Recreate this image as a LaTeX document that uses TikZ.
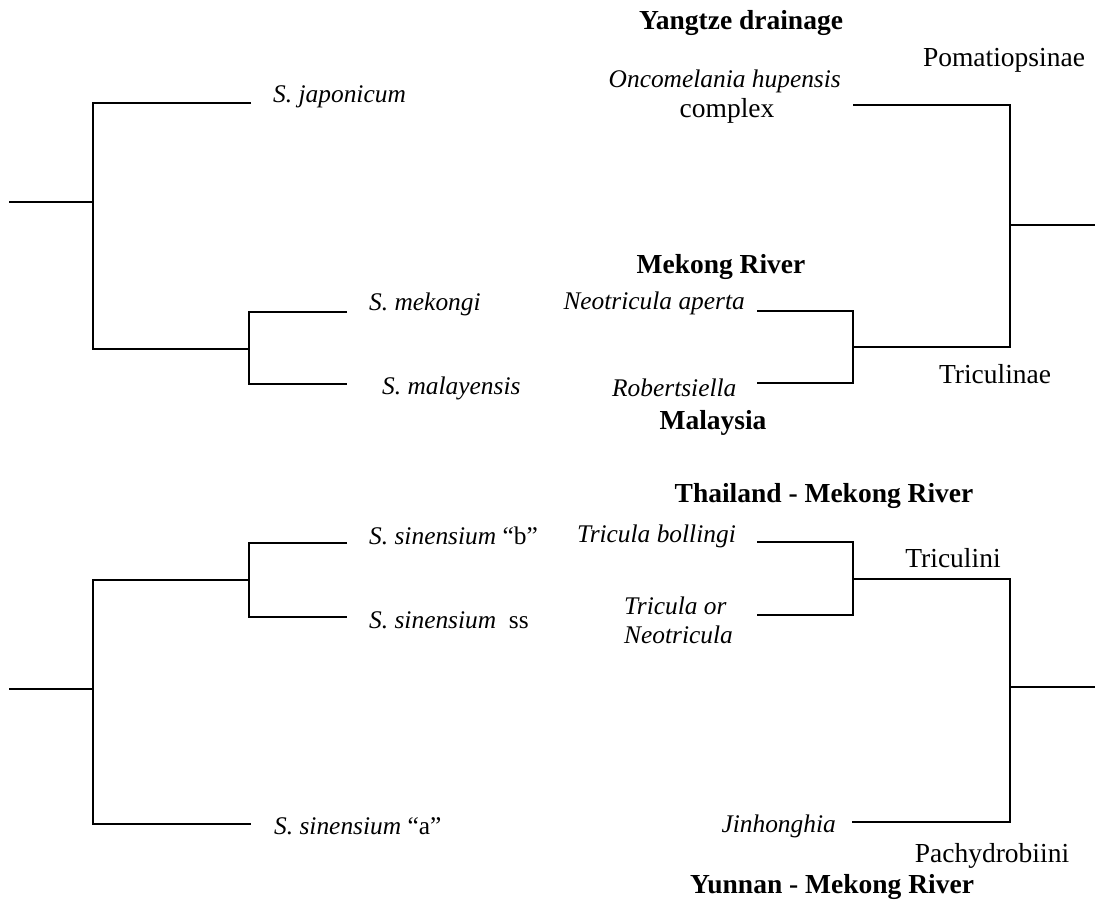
\documentclass[tikz,border=0pt]{standalone}
\usepackage{fontspec}
\setmainfont{Liberation Serif}
\begin{document}
\begin{tikzpicture}[x=0.5pt,y=-0.5pt,line width=1.2pt,
  taxon/.style={inner sep=0pt, font=\fontsize{12.7}{15}\selectfont\itshape},
  group/.style={inner sep=0pt, anchor=base, font=\fontsize{13.75}{16}\selectfont},
  region/.style={inner sep=0pt, anchor=base, font=\fontsize{13.75}{16}\selectfont\bfseries}]
\useasboundingbox (0,0) rectangle (1095,899);

% Schistosoma, upper tree
\coordinate (r1) at (9,202);
\coordinate (n1) at (93,202);
\coordinate (n2) at (249,349);
\coordinate (jap) at (251,103);
\coordinate (mek) at (347,312);
\coordinate (mal) at (347,384);
\draw (r1) -- (n1);
\draw (jap) -| (n1) |- (n2);
\draw (mek) -| (n2) |- (mal);
\node[taxon, anchor=base west] (tjap) at (272,103) {S. japonicum};
\node[taxon, anchor=base west] (tmek) at (368,310) {S. mekongi};
\node[taxon, anchor=base west] (tmal) at (381,394) {S. malayensis};

% snails, upper tree
\coordinate (r2) at (1095,225);
\coordinate (m1) at (1010,225);
\coordinate (m2) at (853,347);
\coordinate (onc) at (853,105);
\coordinate (ape) at (757,311);
\coordinate (rob) at (757,383);
\draw (r2) -- (m1);
\draw (onc) -| (m1) |- (m2);
\draw (ape) -| (m2) |- (rob);
\node[taxon, anchor=base east] (tonc) at (842,88) {Oncomelania hupensis};
\node[group] (tcom) at (727,117) {complex};
\node[taxon, anchor=base east] (tape) at (746,309) {Neotricula aperta};
\node[taxon, anchor=base west] (trob) at (611,396) {Robertsiella};
\node[group] (pom) at (1004,67) {Pomatiopsinae};
\node[group] (tri) at (995,383) {Triculinae};
\node[region] (yan) at (741,30) {Yangtze drainage};
\node[region] (mkr) at (721,273) {Mekong River};
\node[region] (mys) at (713,429) {Malaysia};

% Schistosoma, lower tree
\coordinate (r3) at (9,689);
\coordinate (n3) at (93,689);
\coordinate (n4) at (249,580);
\coordinate (sib) at (347,543);
\coordinate (sis) at (347,617);
\coordinate (sia) at (251,824);
\draw (r3) -- (n3);
\draw (n4) -| (n3) |- (sia);
\draw (sib) -| (n4) |- (sis);
\node[taxon, anchor=base west] (tsib) at (368,544) {S. sinensium \upshape “b”};
\node[taxon, anchor=base west] (tsis) at (368,628) {S. sinensium\ \ \upshape ss};
\node[taxon, anchor=base west] (tsia) at (273,834) {S. sinensium \upshape “a”};

% snails, lower tree
\coordinate (r4) at (1095,687);
\coordinate (m3) at (1010,687);
\coordinate (m4) at (853,579);
\coordinate (bol) at (757,542);
\coordinate (tne) at (757,615);
\coordinate (jin) at (852,822);
\draw (r4) -- (m3);
\draw (m4) -| (m3) |- (jin);
\draw (bol) -| (m4) |- (tne);
\node[taxon, anchor=base east] (tbol) at (737,542) {Tricula bollingi};
\node[taxon, anchor=base west] (ttri) at (623,614) {Tricula or};
\node[taxon, anchor=base west] (tneo) at (623,643) {Neotricula};
\node[taxon, anchor=base east] (tjin) at (837,832) {Jinhonghia};
\node[group] (tni) at (953,567) {Triculini};
\node[group] (pac) at (992,862) {Pachydrobiini};
\node[region] (tha) at (824,502) {Thailand - Mekong River};
\node[region] (yun) at (832,893) {Yunnan - Mekong River};
\end{tikzpicture}
\end{document}
